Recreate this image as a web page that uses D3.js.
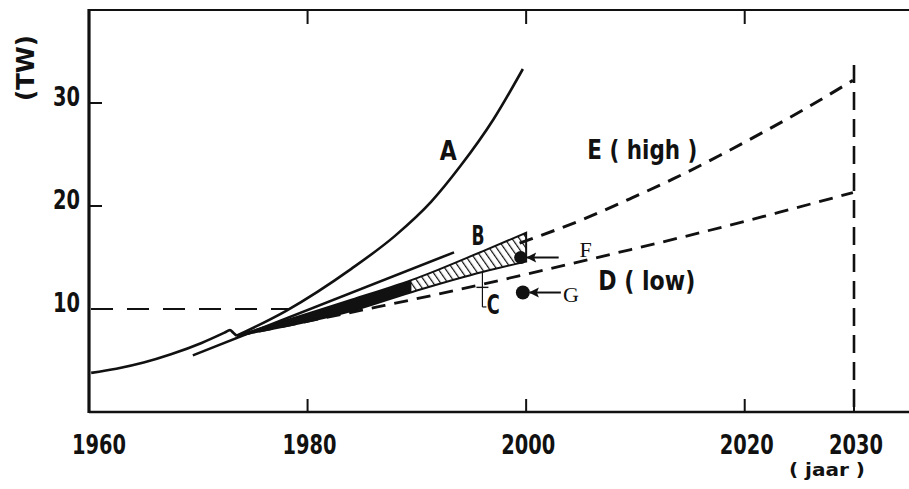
<!DOCTYPE html>
<html>
<head>
<meta charset="utf-8">
<script src="https://cdn.jsdelivr.net/npm/d3@7/dist/d3.min.js"></script>
<style>
  html, body { margin: 0; padding: 0; background: #fff; }
  svg { display: block; }
  .lbl { font-family: 'DejaVu Sans Condensed', 'DejaVu Sans', sans-serif; font-weight: bold; fill: #111; }
  .serif { font-family: 'Liberation Serif', 'DejaVu Serif', serif; fill: #111; }
</style>
</head>
<body>
<script>
// ---- data ----
const xTicks = [1960, 1980, 2000, 2020, 2030];
const yTicks = [10, 20, 30];
const topTicks = [1980, 2000, 2020];

// historical consumption (TW) up to the 1973 kink
const historical = [[1960.2, 3.8], [1962.5, 4.2], [1965.0, 4.8], [1967.5, 5.6], [1970.3, 6.7], [1972.4, 7.7], [1972.9, 7.95], [1973.2, 7.7], [1973.5, 7.4]];
// scenario A (exponential)
const curveA = [[1973.5, 7.4], [1978.0, 9.8], [1984.0, 13.9], [1988.0, 17.1], [1991.3, 20.4], [1994.0, 23.9], [1997.0, 28.4], [1999.7, 33.3]];
// straight line (upper B)
const lineB = [[1969.5, 5.5], [1993.4, 15.5]];
// B band (range)
const bandYears = [1973.5, 1984, 1990, 1996, 2000];
const bandHigh = [7.4, 10.9, 13.0, 15.6, 17.4];
const bandLow = [7.4, 9.8, 11.8, 13.6, 14.6];
// C bracket
const cYear = 1996.0, cLow = 10.2, cMid = 12.1, cHigh = 13.6;
// E (high) and D (low) projections
const curveE = [[1999.4, 16.4], [2005.2, 18.7], [2009.5, 20.7], [2013.4, 22.6], [2017.7, 24.9], [2021.4, 27.0], [2025.3, 29.3], [2029.9, 32.2]];
const curveD = [[1973.5, 7.4], [1979.3, 8.65], [1986.4, 10.2], [1993.7, 11.85], [2000.1, 13.4], [2008.3, 15.45], [2015.9, 17.4], [2023.2, 19.4], [2029.9, 21.3]];
// points F and G (year 2000)
const pointF = [1999.5, 15.0];
const pointG = [1999.7, 11.6];
// reference lines
const refTW = 10, refTo = 1978.3;
const refYear = 2030, refTop = 33.7;
// labels [text, year, TW]
const labels = [["A", 1992.1, 25.4], ["B", 1995.0, 17.1], ["C", 1996.4, 10.4], ["E ( high )", 2005.6, 25.5], ["D ( low)", 2006.6, 12.8]];

// ---- drawing ----
const W = 909, H = 489;
const svg = d3.select("body").append("svg").attr("width", W).attr("height", H);

const x = d3.scaleLinear().domain([1960, 2030]).range([89, 854]);
const y = d3.scaleLinear().domain([0, 30]).range([412, 103]);
const xLeft = 89, yTop = 10, yBottom = y(0);

const line = d3.line().x(d => x(d[0])).y(d => y(d[1]));
const smooth = d3.line().x(d => x(d[0])).y(d => y(d[1])).curve(d3.curveMonotoneX);

// rough width of a bold condensed label, to squeeze DejaVu into the narrow look
const narrow = { "A": 17, "B": 13, "C": 13, "E ( high )": 110, "D ( low)": 97 };

// hatch pattern
const defs = svg.append("defs");
const pat = defs.append("pattern").attr("id", "hatch").attr("patternUnits", "userSpaceOnUse")
  .attr("width", 6).attr("height", 6).attr("patternTransform", "rotate(-35)");
pat.append("rect").attr("width", 6).attr("height", 6).attr("fill", "#fff");
pat.append("line").attr("x1", 0).attr("y1", 0).attr("x2", 0).attr("y2", 6).attr("stroke", "#111").attr("stroke-width", 2.4);
defs.append("clipPath").attr("id", "leftpart").append("rect")
  .attr("x", 0).attr("y", 0).attr("width", x(1989.5)).attr("height", H);

// frame
const frame = svg.append("g").attr("stroke", "#111").attr("fill", "none");
frame.append("line").attr("x1", xLeft).attr("x2", xLeft).attr("y1", yTop - 1).attr("y2", yBottom + 1).attr("stroke-width", 3.2);
frame.append("line").attr("x1", xLeft).attr("x2", W).attr("y1", yBottom).attr("y2", yBottom).attr("stroke-width", 2.4);
frame.append("line").attr("x1", xLeft).attr("x2", W).attr("y1", yTop).attr("y2", yTop).attr("stroke-width", 1.8);

// bottom ticks (inward)
frame.selectAll(".bt").data(xTicks.filter(d => d > 1960)).enter().append("line")
  .attr("x1", d => x(d)).attr("x2", d => x(d)).attr("y1", yBottom).attr("y2", yBottom - 13).attr("stroke-width", 2);
// top ticks
frame.selectAll(".tt").data(topTicks).enter().append("line")
  .attr("x1", d => x(d)).attr("x2", d => x(d)).attr("y1", yTop).attr("y2", yTop + 14).attr("stroke-width", 2);
// left ticks
frame.selectAll(".lt").data(yTicks.filter(d => d !== refTW)).enter().append("line")
  .attr("x1", xLeft).attr("x2", xLeft + 13).attr("y1", d => y(d)).attr("y2", d => y(d)).attr("stroke-width", 2);

// tick labels
svg.selectAll(".xl").data(xTicks).enter().append("text").attr("class", "lbl")
  .attr("x", d => x(d) + (d === 1960 ? 10 : 2) - 27).attr("y", 445).attr("dy", "0.36em")
  .attr("font-size", 26).attr("textLength", 54).attr("lengthAdjust", "spacingAndGlyphs").text(d => d);
svg.selectAll(".yl").data(yTicks).enter().append("text").attr("class", "lbl")
  .attr("x", 53).attr("y", d => y(d) - 6).attr("dy", "0.36em")
  .attr("font-size", 26).attr("textLength", 27).attr("lengthAdjust", "spacingAndGlyphs").text(d => d);

// axis titles
svg.append("text").attr("class", "lbl").attr("transform", "translate(25,68) rotate(-90)")
  .attr("x", -33).attr("dy", "0.36em").attr("font-size", 24)
  .attr("textLength", 66).attr("lengthAdjust", "spacingAndGlyphs").text("(TW)");
svg.append("text").attr("class", "lbl").attr("x", 789).attr("y", 470).attr("dy", "0.36em")
  .attr("font-weight", "normal").attr("font-size", 17)
  .attr("textLength", 76).attr("lengthAdjust", "spacingAndGlyphs").text("( jaar )");

// reference dashed lines
svg.append("line").attr("x1", xLeft + 2).attr("x2", x(refTo)).attr("y1", y(refTW)).attr("y2", y(refTW))
  .attr("stroke", "#111").attr("stroke-width", 1.8).attr("stroke-dasharray", "22,14");
svg.append("line").attr("x1", x(refYear)).attr("x2", x(refYear)).attr("y1", y(refTop)).attr("y2", yBottom)
  .attr("stroke", "#111").attr("stroke-width", 2.6).attr("stroke-dasharray", "18,9");

// band B
const bandData = bandYears.map((yr, i) => [yr, bandLow[i], bandHigh[i]]);
const area = d3.area().x(d => x(d[0])).y0(d => y(d[1])).y1(d => y(d[2])).curve(d3.curveMonotoneX);
svg.append("path").datum(bandData).attr("d", area).attr("fill", "url(#hatch)").attr("stroke", "#111").attr("stroke-width", 2);
svg.append("path").datum(bandData).attr("d", area).attr("fill", "#111").attr("clip-path", "url(#leftpart)");

// curves
svg.append("path").datum(historical).attr("d", smooth).attr("fill", "none").attr("stroke", "#111").attr("stroke-width", 2.6);
svg.append("path").datum(curveA).attr("d", smooth).attr("fill", "none").attr("stroke", "#111").attr("stroke-width", 2.6);
svg.append("path").datum(lineB).attr("d", line).attr("fill", "none").attr("stroke", "#111").attr("stroke-width", 2.6);
svg.append("path").datum(curveE).attr("d", smooth).attr("fill", "none").attr("stroke", "#111").attr("stroke-width", 3).attr("stroke-dasharray", "14,9");
svg.append("path").datum(curveD).attr("d", smooth).attr("fill", "none").attr("stroke", "#111").attr("stroke-width", 2.8).attr("stroke-dasharray", "14,9");

// C bracket
svg.append("line").attr("x1", x(cYear)).attr("x2", x(cYear)).attr("y1", y(cHigh)).attr("y2", y(cLow)).attr("stroke", "#111").attr("stroke-width", 1.2);
svg.append("line").attr("x1", x(cYear) - 6).attr("x2", x(cYear) + 6).attr("y1", y(cMid)).attr("y2", y(cMid)).attr("stroke", "#111").attr("stroke-width", 1.4);
svg.append("line").attr("x1", x(cYear)).attr("x2", x(cYear) + 4).attr("y1", y(cLow)).attr("y2", y(cLow)).attr("stroke", "#111").attr("stroke-width", 1.2);

// points F and G with arrows
function pointArrow(p, r) {
  const cx = x(p[0]), cy = y(p[1]);
  svg.append("circle").attr("cx", cx).attr("cy", cy).attr("r", r).attr("fill", "#111");
  svg.append("line").attr("x1", cx + r).attr("x2", cx + 38).attr("y1", cy).attr("y2", cy).attr("stroke", "#111").attr("stroke-width", 2);
  svg.append("path").attr("d", `M${cx + r - 1},${cy} L${cx + r + 9},${cy - 5} L${cx + r + 7},${cy} L${cx + r + 9},${cy + 5} Z`).attr("fill", "#111");
}
pointArrow(pointF, 6.5);
pointArrow(pointG, 7);
svg.append("text").attr("class", "serif").attr("x", x(pointF[0]) + 65).attr("y", y(pointF[1]) - 8).attr("dy", "0.36em")
  .attr("text-anchor", "middle").attr("font-size", 22).text("F");
svg.append("text").attr("class", "serif").attr("x", x(pointG[0]) + 48).attr("y", y(pointG[1]) + 2).attr("dy", "0.36em")
  .attr("text-anchor", "middle").attr("font-size", 22).text("G");

// curve labels
svg.selectAll(".cl").data(labels).enter().append("text").attr("class", "lbl")
  .attr("x", d => x(d[1])).attr("y", d => y(d[2])).attr("dy", "0.36em")
  .attr("font-size", 26).attr("textLength", d => narrow[d[0]]).attr("lengthAdjust", "spacingAndGlyphs").text(d => d[0]);
</script>
</body>
</html>
